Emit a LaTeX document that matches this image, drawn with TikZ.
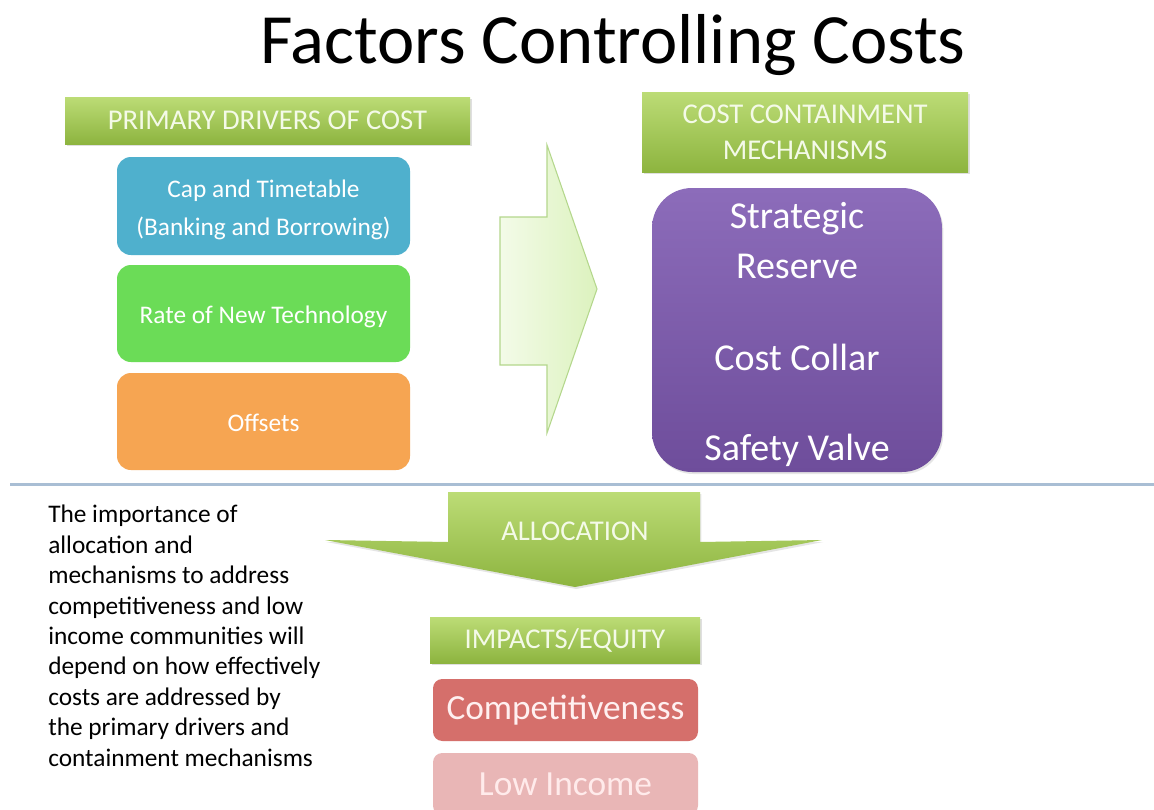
\documentclass[tikz,border=0pt]{standalone}
\usepackage{fontspec}
\setmainfont{Carlito}
\usetikzlibrary{shadows}
\definecolor{hdrtop}{HTML}{BCDC76}
\definecolor{hdrbot}{HTML}{8DB43F}
\definecolor{hdrtext}{HTML}{F4FAE8}
\definecolor{capblue}{HTML}{4FB0CD}
\definecolor{techgreen}{HTML}{6BDC57}
\definecolor{offorange}{HTML}{F6A552}
\definecolor{purtop}{HTML}{8C6CBA}
\definecolor{purbot}{HTML}{6E4D9B}
\definecolor{compred}{HTML}{D56F6B}
\definecolor{lowpink}{HTML}{E9B6B6}
\definecolor{rulecol}{HTML}{A9BED4}
\definecolor{arrowleft}{HTML}{F3FBE8}
\definecolor{arrowfill}{HTML}{DCF2BE}
\definecolor{arrowline}{HTML}{B4D78C}
\begin{document}
\begin{tikzpicture}[x=0.75pt,y=-0.75pt,
  header/.style={rectangle, top color=hdrtop, bottom color=hdrbot, draw=none,
    drop shadow={opacity=0.25, shadow xshift=1.5pt, shadow yshift=-1.5pt},
    text=hdrtext, font=\fontsize{21.5}{26}\selectfont, align=center, inner sep=0pt},
  driver/.style={rectangle, rounded corners=10.5pt, draw=none, inner sep=0pt,
    minimum width=219.75pt},
  drivertext/.style={text=white, font=\fontsize{19}{28.5}\selectfont, align=center, inner sep=0pt},
  purtext/.style={text=white, font=\fontsize{28.5}{32}\selectfont, inner sep=0pt},
  impact/.style={rectangle, rounded corners=7pt, draw=none,
    font=\fontsize{26.5}{30}\selectfont, inner sep=0pt,
    minimum width=198.75pt, minimum height=46.5pt}]
\clip (0,0) rectangle (1154,810);
\fill[white] (0,0) rectangle (1154,810);

% title
\node[anchor=base, font=\fontsize{53}{62}\selectfont] (title) at (613,63) {Factors Controlling Costs};

% primary drivers column
\node[header, minimum width=303.75pt, minimum height=35.25pt] (hdrdrivers) at (267.5,120.5) {PRIMARY DRIVERS OF COST};
\node[driver, fill=capblue, minimum height=73.5pt] (cap) at (263.5,206) {};
\node[drivertext] (captext) at (263.5,210) {Cap and Timetable\\(Banking and Borrowing)};
\node[driver, fill=techgreen, minimum height=72.75pt] (tech) at (263.5,313.5) {};
\node[drivertext] (techtext) at (263.5,316.5) {Rate of New Technology};
\node[driver, fill=offorange, minimum height=72.75pt] (offsets) at (263.5,421.5) {};
\node[drivertext] (offtext) at (263.5,423) {Offsets};

% block arrow towards the containment mechanisms
\coordinate (ra1) at (500,217);
\coordinate (ra2) at (547,217);
\coordinate (ra3) at (547,145);
\coordinate (ra4) at (597,289);
\coordinate (ra5) at (547,433);
\coordinate (ra6) at (547,365);
\coordinate (ra7) at (500,365);
\draw[arrowline, line width=0.8pt, left color=arrowleft, right color=arrowfill]
  (ra1) -- (ra2) -- (ra3) -- (ra4) -- (ra5) -- (ra6) -- (ra7) -- cycle;

% containment mechanisms column
\node[header, minimum width=244.5pt, minimum height=60pt, font=\fontsize{21.5}{27}\selectfont] (hdrcontain) at (805,132) {COST CONTAINMENT\\MECHANISMS};
\node[rectangle, rounded corners=30pt, top color=purtop, bottom color=purbot,
  minimum width=217.5pt, minimum height=213pt,
  drop shadow={opacity=0.2, shadow xshift=1pt, shadow yshift=-1.5pt}] (mech) at (797,330) {};
\node[purtext] (strategic) at (797,219) {Strategic};
\node[purtext] (reserve) at (797,266) {Reserve};
\node[purtext] (collar) at (797,357) {Cost Collar};
\node[purtext] (valve) at (797,450) {Safety Valve};

% separator rule
\coordinate (rulel) at (10,484);
\coordinate (ruler) at (1154,484);
\draw[rulecol, line width=2.25pt] (rulel) -- (ruler);

% explanatory paragraph
\node[anchor=north west, align=left, inner sep=0pt, font=\fontsize{19}{22.8}\selectfont] (note) at (48,505)
 {The importance of\\allocation and\\mechanisms to address\\competitiveness and low\\income communities will\\depend on how effectively\\costs are addressed by\\the primary drivers and\\containment mechanisms};

% allocation arrow
\coordinate (aa1) at (448,492);
\coordinate (aa2) at (700,492);
\coordinate (aa3) at (700,542);
\coordinate (aa4) at (822,540);
\coordinate (aa5) at (575,587);
\coordinate (aa6) at (325,540);
\coordinate (aa7) at (448,542);
\path[top color=hdrtop, bottom color=hdrbot, drop shadow={opacity=0.2, shadow xshift=1pt, shadow yshift=-1.5pt}]
  (aa1) -- (aa2) -- (aa3) -- (aa4) -- (aa5) -- (aa6) -- (aa7) -- cycle;
\node[text=hdrtext, font=\fontsize{21.5}{26}\selectfont] (alloc) at (575,531) {ALLOCATION};

% impacts column
\node[header, minimum width=202.5pt, minimum height=34.5pt] (hdrimpact) at (565,640) {IMPACTS/EQUITY};
\node[impact, fill=compred, text=white!94!red] (comp) at (565.5,710) {Competitiveness};
\node[impact, fill=lowpink, text=white!92!red] (low) at (565.5,784) {Low Income};
\end{tikzpicture}
\end{document}
